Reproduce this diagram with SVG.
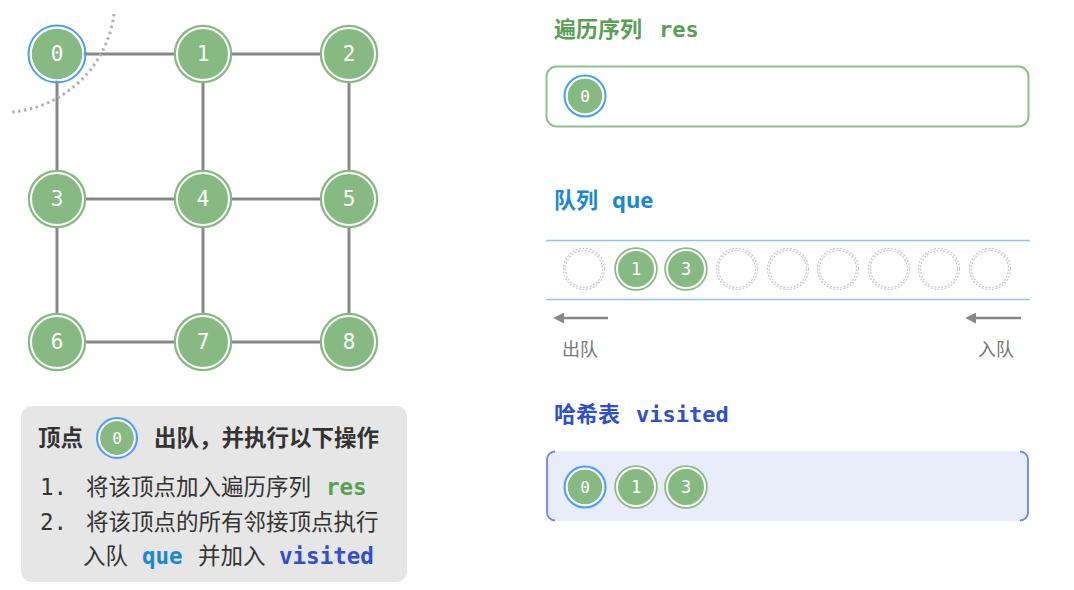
<svg xmlns="http://www.w3.org/2000/svg" width="1074" height="590" viewBox="0 0 1074 590">
<defs>
<style>
.edge{stroke:#878787;stroke-width:3;fill:none}
.nf{fill:#86ba82;stroke:#86ba82;stroke-width:1.5}
.ring{fill:none;stroke:#fff;stroke-width:2}
.nt{font-family:"DejaVu Sans Mono",monospace;fill:#fff;text-anchor:middle;dominant-baseline:central}
.empty{fill:none;stroke:#c8c8c8;stroke-width:1.2;stroke-dasharray:2 1.5}
.cjk{font-family:"Noto Sans CJK SC","Noto Sans",sans-serif}
.mono{font-family:"DejaVu Sans Mono","Liberation Mono",monospace;font-weight:bold}
.monor{font-family:"DejaVu Sans Mono","Liberation Mono",monospace;font-weight:normal}
.sansb{font-family:"Noto Sans","Open Sans",sans-serif;font-weight:bold}
</style>
<marker id="ah" viewBox="0 0 10 10" refX="2" refY="5" markerWidth="4.4" markerHeight="4.4" orient="auto-start-reverse">
<path d="M0,0 L10,5 L0,10 z" fill="#878787"/>
</marker>
</defs>
<rect width="1074" height="590" fill="#fff"/>

<g id="connectors">
<line class="edge" x1="57" y1="54" x2="349" y2="54"/>
<line class="edge" x1="57" y1="199" x2="349" y2="199"/>
<line class="edge" x1="57" y1="342" x2="349" y2="342"/>
<line class="edge" x1="57" y1="54" x2="57" y2="342"/>
<line class="edge" x1="203" y1="54" x2="203" y2="342"/>
<line class="edge" x1="349" y1="54" x2="349" y2="342"/>
</g>

<g id="node0">
<circle cx="57" cy="54" r="25.5" fill="#86ba82"/>
<circle cx="57" cy="54" r="28.5" fill="none" stroke="#4a9ff0" stroke-width="2"/>
<circle cx="57" cy="54" r="26" fill="none" stroke="#fff" stroke-width="1.5"/>
<text class="nt" x="57" y="54" font-size="21">0</text>
</g>
<g id="node1"><circle class="nf" cx="203" cy="54" r="28.5"/><circle class="ring" cx="203" cy="54" r="26"/><text class="nt" x="203" y="54" font-size="21">1</text></g>
<g id="node2"><circle class="nf" cx="349" cy="54" r="28.5"/><circle class="ring" cx="349" cy="54" r="26"/><text class="nt" x="349" y="54" font-size="21">2</text></g>
<g id="node3"><circle class="nf" cx="57" cy="199" r="28.5"/><circle class="ring" cx="57" cy="199" r="26"/><text class="nt" x="57" y="199" font-size="21">3</text></g>
<g id="node4"><circle class="nf" cx="203" cy="199" r="28.5"/><circle class="ring" cx="203" cy="199" r="26"/><text class="nt" x="203" y="199" font-size="21">4</text></g>
<g id="node5"><circle class="nf" cx="349" cy="199" r="28.5"/><circle class="ring" cx="349" cy="199" r="26"/><text class="nt" x="349" y="199" font-size="21">5</text></g>
<g id="node6"><circle class="nf" cx="57" cy="342" r="28.5"/><circle class="ring" cx="57" cy="342" r="26"/><text class="nt" x="57" y="342" font-size="21">6</text></g>
<g id="node7"><circle class="nf" cx="203" cy="342" r="28.5"/><circle class="ring" cx="203" cy="342" r="26"/><text class="nt" x="203" y="342" font-size="21">7</text></g>
<g id="node8"><circle class="nf" cx="349" cy="342" r="28.5"/><circle class="ring" cx="349" cy="342" r="26"/><text class="nt" x="349" y="342" font-size="21">8</text></g>

<path d="M114,14 A113,113 0 0 1 12,112" fill="none" stroke="#b0b0b0" stroke-width="3" stroke-dasharray="2.5 3.5"/>

<g id="infobox">
<rect x="21" y="406" width="386" height="176" rx="11" fill="#e6e6e6"/>
<text class="cjk" x="38" y="446" font-size="22.5" font-weight="bold" fill="#333">顶点</text>
<circle cx="117" cy="438" r="17" fill="#86ba82"/>
<circle cx="117" cy="438" r="20" fill="none" stroke="#4a9ff0" stroke-width="2"/>
<circle cx="117" cy="438" r="17.5" fill="none" stroke="#fff" stroke-width="1.2"/>
<text class="nt" x="117" y="438" font-size="16">0</text>
<text class="cjk" x="154" y="446" font-size="22.5" font-weight="bold" fill="#333">出队，并执行以下操作</text>
<text x="40" y="495" font-size="22.5" fill="#333"><tspan class="monor">1.</tspan><tspan class="cjk" x="86">将该顶点加入遍历序列</tspan><tspan class="mono" x="326" fill="#55a052">res</tspan></text>
<text x="40" y="530" font-size="22.5" fill="#333"><tspan class="monor">2.</tspan><tspan class="cjk" x="86">将该顶点的所有邻接顶点执行</tspan></text>
<text x="83" y="564" font-size="22.5" fill="#333"><tspan class="cjk">入队</tspan><tspan class="mono" x="142" fill="#1a87d1">que</tspan><tspan class="cjk" x="198">并加入</tspan><tspan class="mono" x="279" fill="#2f4fcb">visited</tspan></text>
</g>

<g id="res">
<text x="554" y="37" font-size="22" font-weight="bold" fill="#5a9e57"><tspan class="cjk">遍历序列</tspan><tspan class="mono" x="659">res</tspan></text>
<rect x="546.5" y="66.5" width="482" height="60" rx="10" fill="#fff" stroke="#8cc289" stroke-width="2"/>
<circle cx="585" cy="96" r="17.5" fill="#86ba82"/>
<circle cx="585" cy="96" r="20.5" fill="none" stroke="#4a9ff0" stroke-width="2"/>
<circle cx="585" cy="96" r="18" fill="none" stroke="#fff" stroke-width="1.2"/>
<text class="nt" x="585" y="96" font-size="16">0</text>
</g>

<g id="queue">
<text x="554" y="208" font-size="22" font-weight="bold" fill="#1a87d1"><tspan class="cjk">队列</tspan><tspan class="sansb" x="612">que</tspan></text>
<line x1="546" y1="240.5" x2="1030" y2="240.5" stroke="#8ec6f0" stroke-width="1.5"/>
<line x1="546" y1="299.5" x2="1030" y2="299.5" stroke="#8ec6f0" stroke-width="1.5"/>
<g><circle class="empty" cx="584" cy="269" r="20.5"/><circle class="empty" cx="584" cy="269" r="18.5"/></g>
<g><circle class="nf" cx="636" cy="269" r="21"/><circle class="ring" cx="636" cy="269" r="19" stroke-width="1.5"/><text class="nt" x="636" y="269" font-size="17">1</text></g>
<g><circle class="nf" cx="686" cy="269" r="21"/><circle class="ring" cx="686" cy="269" r="19" stroke-width="1.5"/><text class="nt" x="686" y="269" font-size="17">3</text></g>
<g><circle class="empty" cx="737" cy="269" r="20.5"/><circle class="empty" cx="737" cy="269" r="18.5"/></g>
<g><circle class="empty" cx="788" cy="269" r="20.5"/><circle class="empty" cx="788" cy="269" r="18.5"/></g>
<g><circle class="empty" cx="838" cy="269" r="20.5"/><circle class="empty" cx="838" cy="269" r="18.5"/></g>
<g><circle class="empty" cx="889" cy="269" r="20.5"/><circle class="empty" cx="889" cy="269" r="18.5"/></g>
<g><circle class="empty" cx="939" cy="269" r="20.5"/><circle class="empty" cx="939" cy="269" r="18.5"/></g>
<g><circle class="empty" cx="990" cy="269" r="20.5"/><circle class="empty" cx="990" cy="269" r="18.5"/></g>
<line x1="608" y1="318" x2="562" y2="318" stroke="#878787" stroke-width="2.5" marker-end="url(#ah)"/>
<line x1="1021" y1="318" x2="974" y2="318" stroke="#878787" stroke-width="2.5" marker-end="url(#ah)"/>
<text class="cjk" x="562" y="356" font-size="18" fill="#777">出队</text>
<text class="cjk" x="978" y="356" font-size="18" fill="#777">入队</text>
</g>

<g id="visited">
<text x="554" y="422" font-size="22" font-weight="bold" fill="#2f4fcb"><tspan class="cjk">哈希表</tspan><tspan class="mono" x="636">visited</tspan></text>
<rect x="546" y="451" width="483" height="70" rx="9" fill="#e9edf9"/>
<path d="M555,451.5 A8,8 0 0 0 547,459.5 V512.5 A8,8 0 0 0 555,520.5" fill="none" stroke="#6f86e0" stroke-width="1.8"/>
<path d="M1020,451.5 A8,8 0 0 1 1028,459.5 V512.5 A8,8 0 0 1 1020,520.5" fill="none" stroke="#6f86e0" stroke-width="1.8"/>
<circle cx="585" cy="487" r="17.5" fill="#86ba82"/>
<circle cx="585" cy="487" r="20.5" fill="none" stroke="#4a9ff0" stroke-width="2"/>
<circle cx="585" cy="487" r="18" fill="none" stroke="#fff" stroke-width="1.2"/>
<text class="nt" x="585" y="487" font-size="16">0</text>
<g><circle class="nf" cx="636" cy="487" r="21"/><circle class="ring" cx="636" cy="487" r="19" stroke-width="1.5"/><text class="nt" x="636" y="487" font-size="17">1</text></g>
<g><circle class="nf" cx="686" cy="487" r="21"/><circle class="ring" cx="686" cy="487" r="19" stroke-width="1.5"/><text class="nt" x="686" y="487" font-size="17">3</text></g>
</g>
</svg>
